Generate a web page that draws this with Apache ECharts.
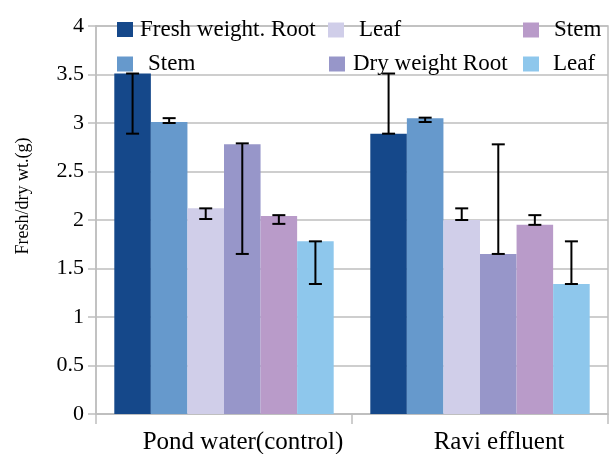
<!DOCTYPE html>
<html>
<head>
<meta charset="utf-8">
<script src="https://cdn.jsdelivr.net/npm/echarts@6/dist/echarts.min.js"></script>
<style>
html,body{margin:0;padding:0;background:#fff;}
#c{width:610px;height:454px;}
</style>
</head>
<body>
<div id="c"></div>
<script>
const categories = ['Pond water(control)', 'Ravi effluent'];
const seriesNames = ['Fresh weight. Root', 'Fresh Stem', 'Fresh Leaf', 'Dry weight Root', 'Dry Stem', 'Dry Leaf'];
const legendLabels = ['Fresh weight. Root', 'Stem', 'Leaf', 'Dry weight Root', 'Stem', 'Leaf'];
const colors = ['#15488A', '#6699CC', '#D0CEE9', '#9796C9', '#B99BC9', '#8EC7EC'];

const freshRoot = [3.51, 2.89];
const freshStem = [3.01, 3.05];
const freshLeaf = [2.12, 2.00];
const dryRoot   = [2.78, 1.65];
const dryStem   = [2.04, 1.95];
const dryLeaf   = [1.78, 1.34];

const errLow  = [[2.89, 2.89], [3.00, 3.01], [2.01, 2.00], [1.65, 1.65], [1.96, 1.95], [1.34, 1.34]];
const errHigh = [[3.51, 3.51], [3.05, 3.055], [2.12, 2.12], [2.79, 2.78], [2.05, 2.05], [1.78, 1.78]];

const yTicks = { min: 0, max: 4, interval: 0.5 };

const values = [freshRoot, freshStem, freshLeaf, dryRoot, dryStem, dryLeaf];
const N = values.length;
const GAP = 0.143;
const FONT = '"Liberation Serif", "Times New Roman", serif';
const GREY = '#BEBEBE';

const chart = echarts.init(document.getElementById('c'), null, {renderer: 'canvas'});

const barSeries = values.map((v, i) => ({
  name: seriesNames[i],
  type: 'bar',
  data: v,
  barGap: '0%',
  barCategoryGap: (GAP * 100) + '%',
  itemStyle: { color: colors[i] },
  emphasis: { disabled: true },
  z: 2
}));

const errData = [];
for (let s = 0; s < N; s++) {
  for (let c = 0; c < categories.length; c++) {
    errData.push([c, errLow[s][c], errHigh[s][c], s]);
  }
}

const errSeries = {
  type: 'custom',
  data: errData,
  encode: { x: 0, y: [1, 2] },
  z: 10,
  silent: true,
  renderItem: function (params, api) {
    const cat = api.value(0), lo = api.value(1), hi = api.value(2), s = api.value(3);
    const band = api.size([1, 0])[0];
    const total = band * (1 - GAP);
    const bw = total / N;
    const cx = api.coord([cat, 0])[0] - total / 2 + (s + 0.5) * bw;
    const yLo = api.coord([cat, lo])[1];
    const yHi = api.coord([cat, hi])[1];
    const cap = 6.5;
    const st = { stroke: '#000', lineWidth: 2 };
    return {
      type: 'group',
      children: [
        { type: 'line', shape: { x1: cx, y1: yLo, x2: cx, y2: yHi }, style: st },
        { type: 'line', shape: { x1: cx - cap, y1: yLo, x2: cx + cap, y2: yLo }, style: st },
        { type: 'line', shape: { x1: cx - cap, y1: yHi, x2: cx + cap, y2: yHi }, style: st }
      ]
    };
  }
};

const legendPos = [
  { left: 117, top: 18, pad: 2 },
  { left: 328, top: 18.5, pad: 10 },
  { left: 523, top: 18.5, pad: 10 },
  { left: 117, top: 52.5, pad: 10 },
  { left: 329, top: 52.5, pad: 3 },
  { left: 523, top: 52.5, pad: 9 }
];
// legend order in picture: col-major -> series index per slot
const legendOrder = [0, 2, 4, 1, 3, 5];
const legends = legendOrder.map((si, k) => ({
  data: [seriesNames[si]],
  left: legendPos[k].left,
  top: legendPos[k].top,
  padding: 0,
  itemWidth: 16,
  itemHeight: 15,
  icon: 'rect',
  selectedMode: false,
  formatter: () => legendLabels[si],
  textStyle: { fontFamily: FONT, fontSize: 23, color: '#000', padding: [0, 0, 0, legendPos[k].pad] }
}));

chart.setOption({
  animation: false,
  backgroundColor: '#fff',
  color: colors,
  legend: legends,
  grid: { left: 96, right: 2, top: 26, bottom: 40, containLabel: false, outerBoundsMode: 'none', show: true, borderColor: GREY, borderWidth: 1.5, backgroundColor: 'transparent' },
  xAxis: {
    type: 'category',
    data: categories,
    axisLine: { lineStyle: { color: GREY, width: 1.5 } },
    axisTick: { show: true, length: 10, lineStyle: { color: GREY, width: 1.5 } },
    axisLabel: { interval: 0, hideOverlap: false, color: '#000', fontFamily: FONT, fontSize: 25, margin: 16, padding: [0, 0, 0, 38] }
  },
  yAxis: {
    type: 'value',
    min: yTicks.min, max: yTicks.max, interval: yTicks.interval,
    name: 'Fresh/dry wt.(g)',
    nameLocation: 'middle',
    nameGap: 64,
    nameTextStyle: { fontFamily: FONT, fontSize: 18, color: '#000', padding: [0, 0, 0, 48] },
    axisLine: { show: true, lineStyle: { color: GREY, width: 1.5 } },
    axisTick: { show: true, length: 8, lineStyle: { color: GREY, width: 1.5 } },
    axisLabel: { color: '#000', fontFamily: FONT, fontSize: 22, margin: 12 },
    splitLine: { show: true, lineStyle: { color: GREY, width: 1.5 } }
  },
  series: barSeries.concat([errSeries])
});
</script>
</body>
</html>
